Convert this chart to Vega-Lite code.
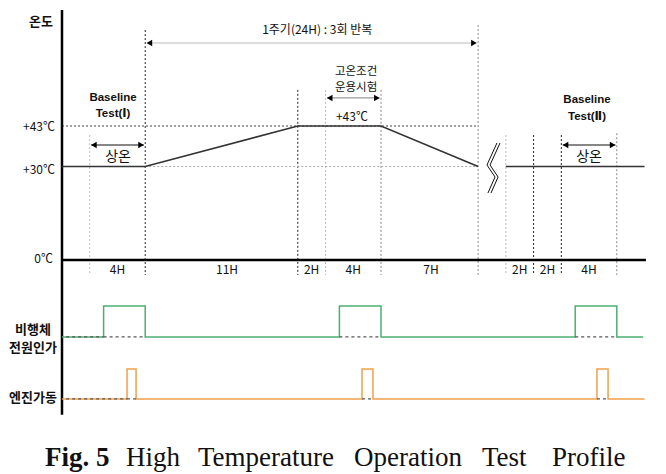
{
  "$schema": "https://vega.github.io/schema/vega-lite/v6.json",
  "width": 666,
  "height": 474,
  "autosize": "none",
  "padding": 0,
  "background": "white",
  "config": {"view": {"stroke": null}},
  "encoding": {
    "x": {"field": "x", "type": "quantitative", "scale": {"domain": [-4.47, 43.547], "nice": false, "zero": false}, "axis": null},
    "y": {"field": "y", "type": "quantitative", "scale": {"domain": [-68.68, 83.44], "nice": false, "zero": false}, "axis": null}
  },
  "layer": [
    {
      "data": {"values": [{"x": 6, "y": 73.8, "y2": -4.8}, {"x": 17, "y": 54.6, "y2": -4.8}, {"x": 34, "y": 40.1, "y2": -4.8}, {"x": 36, "y": 40.1, "y2": -4.8}]},
      "mark": {"type": "rule", "color": "#222222", "strokeDash": [2, 2], "strokeWidth": 1},
      "encoding": {"y2": {"field": "y2"}}
    },
    {
      "data": {"values": [{"x": 23, "y": 54.6, "y2": -4.8}, {"x": 30, "y": 75.4, "y2": -4.8}, {"x": 40, "y": 40.7, "y2": -4.8}]},
      "mark": {"type": "rule", "color": "#888888", "strokeDash": [2, 2], "strokeWidth": 1},
      "encoding": {"y2": {"field": "y2"}}
    },
    {
      "data": {"values": [{"x": 2, "y": 40.1, "y2": -4.8}, {"x": 19, "y": 54.6, "y2": -4.8}, {"x": 32, "y": 40.1, "y2": -4.8}]},
      "mark": {"type": "rule", "color": "#bbbbbb", "strokeDash": [2, 2], "strokeWidth": 1},
      "encoding": {"y2": {"field": "y2"}}
    },
    {
      "data": {"values": [{"x": 0, "x2": 30, "y": 43}]},
      "mark": {"type": "rule", "color": "#444444", "strokeDash": [2, 2], "strokeWidth": 1},
      "encoding": {"x2": {"field": "x2"}}
    },
    {
      "data": {"values": [{"x": 6, "x2": 30, "y": 30}]},
      "mark": {"type": "rule", "color": "#aaaaaa", "strokeDash": [2, 2], "strokeWidth": 1},
      "encoding": {"x2": {"field": "x2"}}
    },
    {
      "data": {"values": [{"x": 0, "y": 80.2, "y2": -49.7}]},
      "mark": {"type": "rule", "color": "#000000", "strokeWidth": 2.5},
      "encoding": {"y2": {"field": "y2"}}
    },
    {
      "data": {"values": [{"x": 0, "x2": 42.1, "y": 0}]},
      "mark": {"type": "rule", "color": "#000000", "strokeWidth": 2.5},
      "encoding": {"x2": {"field": "x2"}}
    },
    {
      "data": {"values": [
        {"seg": "a", "o": 1, "x": 0, "y": 30}, {"seg": "a", "o": 2, "x": 6, "y": 30}, {"seg": "a", "o": 3, "x": 17, "y": 43}, {"seg": "a", "o": 4, "x": 23, "y": 43}, {"seg": "a", "o": 5, "x": 30, "y": 30},
        {"seg": "b", "o": 1, "x": 32, "y": 30}, {"seg": "b", "o": 2, "x": 42, "y": 30}
      ]},
      "mark": {"type": "line", "color": "#333333", "strokeWidth": 1.6},
      "encoding": {"detail": {"field": "seg"}, "order": {"field": "o"}}
    },
    {
      "data": {"values": [
        {"g": "a", "o": 1, "x": 31.36, "y": 37.55}, {"g": "a", "o": 2, "x": 30.64, "y": 30.49}, {"g": "a", "o": 3, "x": 31.22, "y": 26.64}, {"g": "a", "o": 4, "x": 30.71, "y": 21.5},
        {"g": "b", "o": 1, "x": 31.58, "y": 37.55}, {"g": "b", "o": 2, "x": 30.86, "y": 30.49}, {"g": "b", "o": 3, "x": 31.44, "y": 26.64}, {"g": "b", "o": 4, "x": 30.93, "y": 21.5}
      ]},
      "mark": {"type": "line", "color": "#111111", "strokeWidth": 1},
      "encoding": {"detail": {"field": "g"}, "order": {"field": "o"}}
    },
    {
      "data": {"values": [{"x": 6.15, "x2": 29.85, "y": 69.64}]},
      "mark": {"type": "rule", "color": "#bbbbbb", "strokeWidth": 1.2},
      "encoding": {"x2": {"field": "x2"}}
    },
    {
      "data": {"values": [{"x": 2.1, "x2": 5.9, "y": 36.9}, {"x": 36.1, "x2": 39.9, "y": 36.9}]},
      "mark": {"type": "rule", "color": "#111111", "strokeWidth": 1.2},
      "encoding": {"x2": {"field": "x2"}}
    },
    {
      "data": {"values": [{"x": 19.1, "x2": 22.9, "y": 52.0}]},
      "mark": {"type": "rule", "color": "#999999", "strokeWidth": 1.2},
      "encoding": {"x2": {"field": "x2"}}
    },
    {
      "data": {"values": [{"x": 6.3, "y": 69.64}, {"x": 2.3, "y": 36.9}, {"x": 36.3, "y": 36.9}, {"x": 19.3, "y": 52.0}]},
      "mark": {"type": "point", "shape": "triangle-left", "filled": true, "color": "#000000", "size": 42, "opacity": 1}
    },
    {
      "data": {"values": [{"x": 29.7, "y": 69.64}, {"x": 5.7, "y": 36.9}, {"x": 39.7, "y": 36.9}, {"x": 22.7, "y": 52.0}]},
      "mark": {"type": "point", "shape": "triangle-right", "filled": true, "color": "#000000", "size": 42, "opacity": 1}
    },
    {
      "data": {"values": [
        {"o": 1, "x": 0, "y": -24.7}, {"o": 2, "x": 3, "y": -24.7}, {"o": 3, "x": 3, "y": -14.76}, {"o": 4, "x": 6, "y": -14.76}, {"o": 5, "x": 6, "y": -24.7},
        {"o": 6, "x": 20, "y": -24.7}, {"o": 7, "x": 20, "y": -14.76}, {"o": 8, "x": 23, "y": -14.76}, {"o": 9, "x": 23, "y": -24.7},
        {"o": 10, "x": 37, "y": -24.7}, {"o": 11, "x": 37, "y": -14.76}, {"o": 12, "x": 40, "y": -14.76}, {"o": 13, "x": 40, "y": -24.7}, {"o": 14, "x": 41.9, "y": -24.7}
      ]},
      "mark": {"type": "line", "color": "#4caf72", "strokeWidth": 1.5},
      "encoding": {"order": {"field": "o"}}
    },
    {
      "data": {"values": [
        {"o": 1, "x": 0, "y": -44.6}, {"o": 2, "x": 4.69, "y": -44.6}, {"o": 3, "x": 4.69, "y": -34.98}, {"o": 4, "x": 5.34, "y": -34.98}, {"o": 5, "x": 5.34, "y": -44.6},
        {"o": 6, "x": 21.63, "y": -44.6}, {"o": 7, "x": 21.63, "y": -34.98}, {"o": 8, "x": 22.42, "y": -34.98}, {"o": 9, "x": 22.42, "y": -44.6},
        {"o": 10, "x": 38.57, "y": -44.6}, {"o": 11, "x": 38.57, "y": -34.98}, {"o": 12, "x": 39.37, "y": -34.98}, {"o": 13, "x": 39.37, "y": -44.6}, {"o": 14, "x": 42.0, "y": -44.6}
      ]},
      "mark": {"type": "line", "color": "#f2a04a", "strokeWidth": 1.5},
      "encoding": {"order": {"field": "o"}}
    },
    {
      "data": {"values": [
        {"x": 0.3, "x2": 3, "y": -24.7}, {"x": 3, "x2": 6, "y": -24.7}, {"x": 20, "x2": 23, "y": -24.7}, {"x": 37, "x2": 40, "y": -24.7},
        {"x": 0.3, "x2": 4.69, "y": -44.6}, {"x": 4.69, "x2": 5.34, "y": -44.6}, {"x": 21.63, "x2": 22.42, "y": -44.6}, {"x": 38.57, "x2": 39.37, "y": -44.6}
      ]},
      "mark": {"type": "rule", "color": "#555555", "strokeDash": [3, 3], "strokeWidth": 1.3},
      "encoding": {"x2": {"field": "x2"}}
    },
    {
      "data": {"values": [
        {"t": "1주기(24H) : 3회 반복", "x": 18.4, "y": 73.8},
        {"t": "+43℃", "x": 20.9, "y": 45.9},
        {"t": "4H", "x": 4.0, "y": -3.37},
        {"t": "11H", "x": 11.9, "y": -3.37},
        {"t": "2H", "x": 18.0, "y": -3.37},
        {"t": "4H", "x": 21.0, "y": -3.37},
        {"t": "7H", "x": 26.6, "y": -3.37},
        {"t": "2H", "x": 33.0, "y": -3.37},
        {"t": "2H", "x": 35.0, "y": -3.37},
        {"t": "4H", "x": 38.0, "y": -3.37}
      ]},
      "mark": {"type": "text", "font": "Noto Sans CJK KR", "fontSize": 12, "color": "#111111", "align": "center", "baseline": "middle"},
      "encoding": {"text": {"field": "t"}}
    },
    {
      "data": {"values": [
        {"t": "고온조건", "x": 21.2, "y": 60.2},
        {"t": "운용시험", "x": 21.2, "y": 55.1}
      ]},
      "mark": {"type": "text", "font": "Noto Sans CJK KR", "fontSize": 11.5, "color": "#111111", "align": "center", "baseline": "middle"},
      "encoding": {"text": {"field": "t"}}
    },
    {
      "data": {"values": [{"t": "상온", "x": 4.04, "y": 33.05}, {"t": "상온", "x": 38.0, "y": 33.05}]},
      "mark": {"type": "text", "font": "Noto Sans CJK KR", "fontSize": 14, "color": "#111111", "align": "center", "baseline": "middle"},
      "encoding": {"text": {"field": "t"}}
    },
    {
      "data": {"values": [
        {"t": "Baseline", "x": 3.68, "y": 52.1}, {"t": "Test(Ⅰ)", "x": 3.68, "y": 46.9},
        {"t": "Baseline", "x": 37.85, "y": 51.5}, {"t": "Test(Ⅱ)", "x": 37.85, "y": 45.8}
      ]},
      "mark": {"type": "text", "font": "Liberation Sans, DejaVu Sans", "fontSize": 11.5, "fontWeight": "bold", "color": "#111111", "align": "center", "baseline": "middle"},
      "encoding": {"text": {"field": "t"}}
    },
    {
      "data": {"values": [{"t": "+43℃", "x": -0.505, "y": 42.68}, {"t": "+30℃", "x": -0.505, "y": 28.9}, {"t": "0℃", "x": -0.65, "y": 0.3}]},
      "mark": {"type": "text", "font": "Noto Sans CJK KR", "fontSize": 12, "color": "#111111", "align": "right", "baseline": "middle"},
      "encoding": {"text": {"field": "t"}}
    },
    {
      "data": {"values": [{"t": "온도", "x": -0.65, "y": 76.38}]},
      "mark": {"type": "text", "font": "Noto Sans CJK KR", "fontSize": 13, "fontWeight": "bold", "color": "#111111", "align": "right", "baseline": "middle"},
      "encoding": {"text": {"field": "t"}}
    },
    {
      "data": {"values": [{"t": "비행체", "x": -2.09, "y": -22.46}, {"t": "전원인가", "x": -2.09, "y": -28.3}, {"t": "엔진가동", "x": -2.09, "y": -44.4}]},
      "mark": {"type": "text", "font": "Noto Sans CJK KR", "fontSize": 13, "fontWeight": "bold", "color": "#111111", "align": "center", "baseline": "middle"},
      "encoding": {"text": {"field": "t"}}
    },
    {
      "data": {"values": [{"t": "Fig.", "x": -1.226, "y": -66.2}, {"t": "5", "x": 2.451, "y": -66.2}]},
      "mark": {"type": "text", "font": "Liberation Serif", "fontSize": 27, "fontWeight": "bold", "color": "#111111", "align": "left", "baseline": "alphabetic"},
      "encoding": {"text": {"field": "t"}}
    },
    {
      "data": {"values": [
        {"t": "High", "x": 4.614, "y": -66.2}, {"t": "Temperature", "x": 9.805, "y": -66.2}, {"t": "Operation", "x": 21.053, "y": -66.2},
        {"t": "Test", "x": 30.281, "y": -66.2}, {"t": "Profile", "x": 35.328, "y": -66.2}
      ]},
      "mark": {"type": "text", "font": "Liberation Serif", "fontSize": 27, "color": "#111111", "align": "left", "baseline": "alphabetic"},
      "encoding": {"text": {"field": "t"}}
    }
  ]
}
